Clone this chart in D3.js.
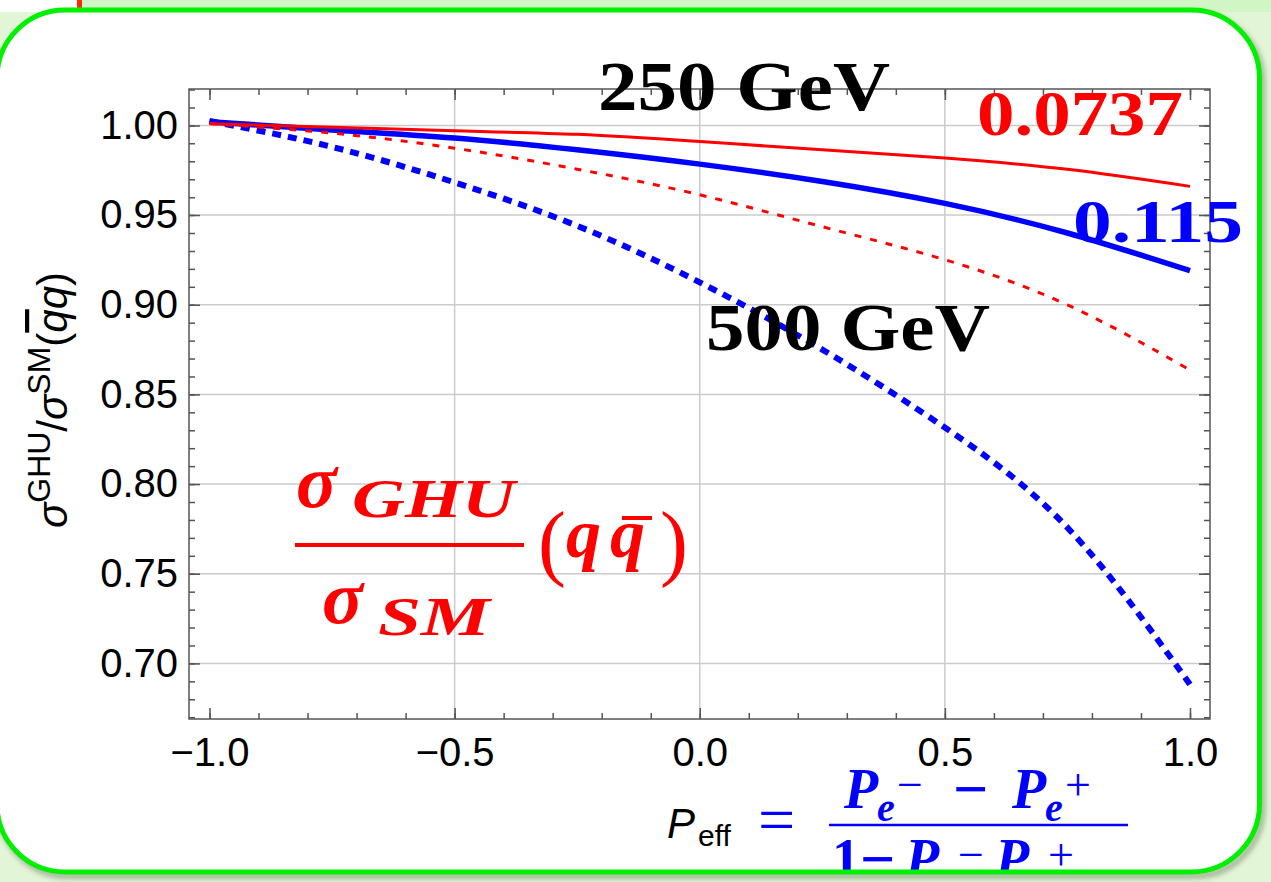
<!DOCTYPE html>
<html>
<head>
<meta charset="utf-8">
<script src="https://cdn.jsdelivr.net/npm/d3@7"></script>
<style>
  body { margin: 0; background: #e2f5d6; }
  svg { display: block; }
</style>
</head>
<body>
<div id="chart"></div>
<script>
// Polarisation values where the curves were read
const peff = [-1, -0.75, -0.5, -0.25, 0, 0.25, 0.5, 0.75, 1];

// sigma_GHU / sigma_SM (q qbar)
const red250  = [1.001, 0.999, 0.997, 0.995, 0.991, 0.9864, 0.9818, 0.9755, 0.966];
const red500  = [1.001, 0.9957, 0.9873, 0.9756, 0.9613, 0.9435, 0.9251, 0.8999, 0.8636];
const blue250 = [1.002, 0.9975, 0.993, 0.9864, 0.9784, 0.9687, 0.9565, 0.9400, 0.919];
const blue500 = [1.0025, 0.988, 0.9682, 0.944, 0.9125, 0.875, 0.8315, 0.7757, 0.6883];

// Ticks
const xMajor = [-1, -0.5, 0, 0.5, 1];
const xTickLabels = ["\u22121.0", "\u22120.5", "0.0", "0.5", "1.0"];
const xGrid = [-0.5, 0, 0.5];
const yMajor = [0.70, 0.75, 0.80, 0.85, 0.90, 0.95, 1.00];
const yTickLabels = ["0.70", "0.75", "0.80", "0.85", "0.90", "0.95", "1.00"];

const W = 1271, H = 882;
const plot = {left: 189, right: 1210, top: 89, bottom: 719};

const svg = d3.select("#chart")
    .append("svg")
        .attr("width", W)
        .attr("height", H);

const defs = svg.append("defs");
defs.append("clipPath").attr("id", "card")
    .append("rect")
        .attr("x", -3).attr("y", 10)
        .attr("width", 1262.5).attr("height", 862)
        .attr("rx", 68).attr("ry", 68);
const blur = defs.append("filter").attr("id", "shadow")
    .attr("x", "-5%").attr("y", "-5%").attr("width", "110%").attr("height", "110%");
blur.append("feGaussianBlur").attr("stdDeviation", 2.5);

// Page background bits outside the card
svg.append("rect").attr("x", 0).attr("y", 0).attr("width", 77).attr("height", 12).attr("fill", "#fff");
svg.append("rect").attr("x", 82).attr("y", 0).attr("width", W - 82).attr("height", 12).attr("fill", "#d2f5c6");
svg.append("rect").attr("x", 77).attr("y", 0).attr("width", 5).attr("height", 10).attr("fill", "#ff2a00");

// Card shadow + white card
svg.append("rect")
    .attr("x", 0).attr("y", 14)
    .attr("width", 1262.5).attr("height", 862)
    .attr("rx", 68).attr("ry", 68)
    .attr("fill", "none")
    .attr("stroke", "#7d8a72")
    .attr("stroke-width", 6)
    .attr("opacity", 0.6)
    .attr("filter", "url(#shadow)");
svg.append("rect")
    .attr("x", -3).attr("y", 10)
    .attr("width", 1262.5).attr("height", 862)
    .attr("rx", 68).attr("ry", 68)
    .attr("fill", "#fff");

const card = svg.append("g").attr("clip-path", "url(#card)");

// Scales
const x = d3.scaleLinear().domain([-1.0418, 1.0408]).range([plot.left, plot.right]);
const y = d3.scaleLinear().domain([0.669, 1.0203]).range([plot.bottom, plot.top]);

const xMinor = d3.range(-10, 11).map(i => i / 10);
const yMinor = d3.range(67, 103).map(i => i / 100);

// Grid lines
card.append("g").selectAll("line").data(xGrid).join("line")
    .attr("x1", d => x(d)).attr("x2", d => x(d))
    .attr("y1", plot.top).attr("y2", plot.bottom)
    .attr("stroke", "#cbcbcb").attr("stroke-width", 1.5);
card.append("g").selectAll("line").data(yMajor).join("line")
    .attr("x1", plot.left).attr("x2", plot.right)
    .attr("y1", d => y(d)).attr("y2", d => y(d))
    .attr("stroke", "#cbcbcb").attr("stroke-width", 1.5);

// Frame ticks (pointing inward)
function styleAxis(g) {
    g.select(".domain").remove();
    g.attr("color", "#555")
     .attr("font-family", "'Liberation Sans', Arial, sans-serif")
     .attr("font-size", 40);
    g.selectAll(".tick line").attr("stroke-width", 1.5);
    g.selectAll(".tick text").attr("fill", "#000");
}

card.append("g").attr("transform", `translate(0,${plot.bottom})`)
    .call(d3.axisBottom(x).tickValues(xMinor).tickSize(-6).tickSizeOuter(0).tickFormat(""))
    .call(styleAxis);
card.append("g").attr("transform", `translate(0,${plot.bottom})`)
    .call(d3.axisBottom(x).tickValues(xMajor).tickSize(-11).tickSizeOuter(0).tickPadding(19)
        .tickFormat((d, i) => xTickLabels[i]))
    .call(styleAxis);
card.append("g").attr("transform", `translate(0,${plot.top})`)
    .call(d3.axisTop(x).tickValues(xMinor).tickSize(-6).tickSizeOuter(0).tickFormat(""))
    .call(styleAxis);
card.append("g").attr("transform", `translate(0,${plot.top})`)
    .call(d3.axisTop(x).tickValues(xMajor).tickSize(-11).tickSizeOuter(0).tickFormat(""))
    .call(styleAxis);

card.append("g").attr("transform", `translate(${plot.left},0)`)
    .call(d3.axisLeft(y).tickValues(yMinor).tickSize(-6).tickSizeOuter(0).tickFormat(""))
    .call(styleAxis);
card.append("g").attr("transform", `translate(${plot.left},0)`)
    .call(d3.axisLeft(y).tickValues(yMajor).tickSize(-11).tickSizeOuter(0).tickPadding(11)
        .tickFormat((d, i) => yTickLabels[i]))
    .call(styleAxis);
card.append("g").attr("transform", `translate(${plot.right},0)`)
    .call(d3.axisRight(y).tickValues(yMinor).tickSize(-6).tickSizeOuter(0).tickFormat(""))
    .call(styleAxis);
card.append("g").attr("transform", `translate(${plot.right},0)`)
    .call(d3.axisRight(y).tickValues(yMajor).tickSize(-11).tickSizeOuter(0).tickFormat(""))
    .call(styleAxis);

card.append("rect")
    .attr("x", plot.left).attr("y", plot.top)
    .attr("width", plot.right - plot.left).attr("height", plot.bottom - plot.top)
    .attr("fill", "none").attr("stroke", "#555").attr("stroke-width", 1.5);

// Curves
const series = [
    {name: "blue500", vals: blue500, color: "#0000ff", width: 6,   dash: "9,7"},
    {name: "blue250", vals: blue250, color: "#0000ff", width: 5.5, dash: null},
    {name: "red500",  vals: red500,  color: "#ff0000", width: 3,   dash: "7,9"},
    {name: "red250",  vals: red250,  color: "#ff0000", width: 3,   dash: null}
];

series.forEach(function(s) {
    const line = d3.line()
        .curve(d3.curveNatural)
        .x((d, i) => x(peff[i]))
        .y(d => y(d));
    card.append("path")
        .datum(s.vals)
        .attr("class", "line line-" + s.name)
        .attr("fill", "none")
        .attr("stroke", s.color)
        .attr("stroke-width", s.width)
        .attr("stroke-dasharray", s.dash)
        .attr("d", line);
});

// Y axis label
const ylab = card.append("text")
    .attr("transform", "translate(67,400) rotate(-90)")
    .attr("text-anchor", "middle")
    .attr("font-family", "'Liberation Sans', Arial, sans-serif")
    .attr("font-size", 42);
ylab.append("tspan").attr("font-style", "italic").text("\u03c3");
ylab.append("tspan").attr("font-size", 32).attr("dy", -17).text("GHU");
ylab.append("tspan").attr("dy", 17).text("/");
ylab.append("tspan").attr("font-style", "italic").text("\u03c3");
ylab.append("tspan").attr("font-size", 32).attr("dy", -17).text("SM");
ylab.append("tspan").attr("dy", 17).text("(");
ylab.append("tspan").attr("font-style", "italic").attr("text-decoration", "overline").text("q");
ylab.append("tspan").attr("font-style", "italic").text("q");
ylab.append("tspan").text(")");

// X axis label
const serif = "'Liberation Serif', 'Times New Roman', serif";
const sans = "'Liberation Sans', Arial, sans-serif";
card.append("text").attr("x", 667).attr("y", 838)
    .attr("font-family", sans).attr("font-size", 42).attr("font-style", "italic").text("P");
card.append("text").attr("x", 698).attr("y", 846)
    .attr("font-family", sans).attr("font-size", 30).text("eff");

const blueMath = card.append("g").attr("fill", "#0000ff").attr("font-family", serif)
    .attr("font-weight", "bold").attr("font-style", "italic");
blueMath.append("text").attr("x", 758).attr("y", 842).attr("font-size", 66)
    .attr("font-style", "normal").attr("font-weight", "normal").text("=");

function pe(px, base, sign) {
    blueMath.append("text").attr("x", px).attr("y", base).attr("font-size", 56).text("P");
    blueMath.append("text").attr("x", px + 33).attr("y", base + 13).attr("font-size", 40).text("e");
    blueMath.append("text").attr("x", px + 53).attr("y", base - 8).attr("font-size", 46)
        .attr("font-style", "normal").attr("font-weight", "normal").text(sign);
}
// numerator
pe(844, 808, "\u2212");
blueMath.append("text").attr("x", 953).attr("y", 810).attr("font-size", 62)
    .attr("font-style", "normal").text("\u2212");
pe(1012, 808, "+");
blueMath.append("line").attr("x1", 829).attr("x2", 1128).attr("y1", 825).attr("y2", 825)
    .attr("stroke", "#0000ff").attr("stroke-width", 2.5);
// denominator
blueMath.append("text").attr("x", 832).attr("y", 878).attr("font-size", 56).attr("font-style", "normal").text("1");
blueMath.append("text").attr("x", 860).attr("y", 880).attr("font-size", 62)
    .attr("font-style", "normal").text("\u2212");
pe(905, 878, "\u2212");
pe(995, 878, "+");

// Energy and theta labels
function boldLabel(txt, px, py, size, len, color) {
    card.append("text")
        .attr("x", px).attr("y", py)
        .attr("font-family", serif).attr("font-weight", "bold")
        .attr("font-size", size)
        .attr("textLength", len).attr("lengthAdjust", "spacingAndGlyphs")
        .attr("fill", color)
        .text(txt);
}
boldLabel("250 GeV", 598, 110, 70, 292, "#000");
boldLabel("500 GeV", 706, 350, 68, 284, "#000");
boldLabel("0.0737", 977, 135, 64, 206, "#ff0000");
boldLabel("0.115", 1073, 242, 62, 170, "#0000ff");

// sigma_GHU / sigma_SM (q qbar)
const redMath = card.append("g").attr("fill", "#ff0000").attr("font-family", serif);
redMath.append("text").attr("x", 296).attr("y", 507).attr("font-size", 76)
    .attr("font-weight", "bold").attr("font-style", "italic").text("\u03c3");
redMath.append("text").attr("x", 352).attr("y", 517).attr("font-size", 54)
    .attr("font-weight", "bold").attr("font-style", "italic")
    .attr("textLength", 163).attr("lengthAdjust", "spacingAndGlyphs").text("GHU");
redMath.append("line").attr("x1", 295).attr("x2", 524).attr("y1", 545).attr("y2", 545)
    .attr("stroke", "#ff0000").attr("stroke-width", 4);
redMath.append("text").attr("x", 322).attr("y", 623).attr("font-size", 76)
    .attr("font-weight", "bold").attr("font-style", "italic").text("\u03c3");
redMath.append("text").attr("x", 378).attr("y", 635).attr("font-size", 54)
    .attr("font-weight", "bold").attr("font-style", "italic")
    .attr("textLength", 112).attr("lengthAdjust", "spacingAndGlyphs").text("SM");
redMath.append("text").attr("x", 538).attr("y", 570).attr("font-size", 84).text("(");
redMath.append("text").attr("x", 566).attr("y", 557).attr("font-size", 70)
    .attr("font-weight", "bold").attr("font-style", "italic").text("q");
redMath.append("text").attr("x", 610).attr("y", 557).attr("font-size", 70)
    .attr("font-weight", "bold").attr("font-style", "italic").text("q");
redMath.append("line").attr("x1", 622).attr("x2", 652).attr("y1", 518).attr("y2", 518)
    .attr("stroke", "#ff0000").attr("stroke-width", 4);
redMath.append("text").attr("x", 660).attr("y", 570).attr("font-size", 84).text(")");

// Green card border on top
svg.append("rect")
    .attr("x", -3).attr("y", 10)
    .attr("width", 1262.5).attr("height", 862)
    .attr("rx", 68).attr("ry", 68)
    .attr("fill", "none")
    .attr("stroke", "#00f000")
    .attr("stroke-width", 5);
</script>
</body>
</html>
